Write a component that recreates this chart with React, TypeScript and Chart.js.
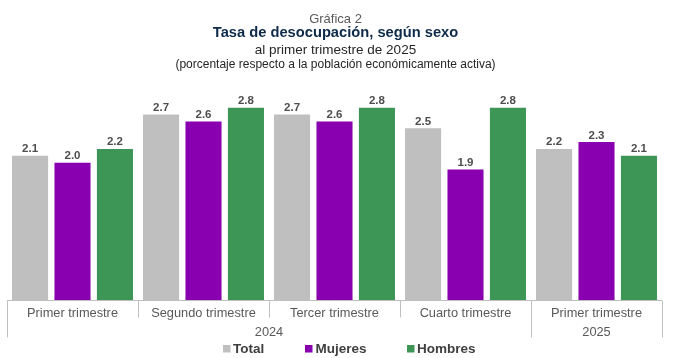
import React, { useEffect, useRef } from "react";
import { Chart, registerables } from "chart.js";

Chart.register(...registerables);

const quarters = ["Primer trimestre", "Segundo trimestre", "Tercer trimestre", "Cuarto trimestre", "Primer trimestre"];
const years = ["2024", "2024", "2024", "2024", "2025"];
const seriesNames = ["Total", "Mujeres", "Hombres"];
const totalValues = [2.1, 2.7, 2.7, 2.5, 2.2];
const mujeresValues = [2.0, 2.6, 2.6, 1.9, 2.3];
const hombresValues = [2.2, 2.8, 2.8, 2.8, 2.1];
const seriesColors = ["#bfbfbf", "#8800b0", "#3d9655"];

const FONT = "Arial, 'Liberation Sans', sans-serif";

const overlayPlugin = {
  id: "overlay",
  afterDatasetsDraw(chart: any) {
    const ctx = chart.ctx as CanvasRenderingContext2D;
    const xs = chart.scales.x;
    const area = chart.chartArea;
    ctx.save();

    // value labels
    ctx.font = `bold 11.5px ${FONT}`;
    ctx.fillStyle = "#4d4d4d";
    ctx.textAlign = "center";
    ctx.textBaseline = "alphabetic";
    chart.data.datasets.forEach((ds: any, di: number) => {
      const meta = chart.getDatasetMeta(di);
      meta.data.forEach((bar: any, i: number) => {
        const v = ds.data[i] as number;
        ctx.fillText(v.toFixed(1), bar.x, bar.y - 3.5);
      });
    });

    // axis line
    const base = Math.round(area.bottom) + 0.5;
    ctx.strokeStyle = "#bfbfbf";
    ctx.lineWidth = 1;
    ctx.beginPath();
    ctx.moveTo(area.left, base);
    ctx.lineTo(area.right, base);
    ctx.stroke();

    const n = quarters.length;
    const step = (xs.getPixelForValue(1) - xs.getPixelForValue(0));
    const start = xs.getPixelForValue(0) - step / 2;
    const boundary = (i: number) => Math.round(start + i * step) + 0.5;

    // dividers
    for (let i = 0; i <= n; i++) {
      const isGroupEdge = i === 0 || i === n || years[i] !== years[i - 1];
      ctx.beginPath();
      ctx.moveTo(boundary(i), base);
      ctx.lineTo(boundary(i), isGroupEdge ? base + 37 : base + 17);
      ctx.stroke();
    }

    // quarter labels
    ctx.font = `12.8px ${FONT}`;
    ctx.fillStyle = "#595959";
    for (let i = 0; i < n; i++) {
      ctx.fillText(quarters[i], xs.getPixelForValue(i), base + 16);
    }

    // year labels
    let runStart = 0;
    for (let i = 1; i <= n; i++) {
      if (i === n || years[i] !== years[runStart]) {
        const cx = (start + runStart * step + start + i * step) / 2;
        ctx.fillText(years[runStart], cx, base + 35);
        runStart = i;
      }
    }

    // legend
    const legendY = 348.5;
    const items = [
      { box: 223, text: 233 },
      { box: 305, text: 315.5 },
      { box: 407, text: 417 },
    ];
    ctx.font = `bold 13.5px ${FONT}`;
    ctx.textAlign = "left";
    ctx.textBaseline = "middle";
    chart.data.datasets.forEach((ds: any, di: number) => {
      const it = items[di];
      ctx.fillStyle = ds.backgroundColor;
      ctx.fillRect(it.box, legendY - 3.5, 7.5, 7.5);
      ctx.fillStyle = "#404040";
      ctx.fillText(ds.label, it.text, legendY + 0.5);
    });

    ctx.restore();
  },
};

export default function App() {
  const canvasRef = useRef<HTMLCanvasElement | null>(null);

  useEffect(() => {
    document.body.style.margin = "0";
    const canvas = canvasRef.current;
    if (!canvas) return;
    const chart = new Chart(canvas, {
      type: "bar",
      data: {
        labels: quarters,
        datasets: [
          { label: seriesNames[0], data: totalValues, backgroundColor: seriesColors[0] },
          { label: seriesNames[1], data: mujeresValues, backgroundColor: seriesColors[1] },
          { label: seriesNames[2], data: hombresValues, backgroundColor: seriesColors[2] },
        ],
      },
      options: {
        responsive: false,
        animation: false,
        devicePixelRatio: 1,
        layout: { padding: { left: 7, right: 27, top: 94, bottom: 58 } },
        datasets: {
          bar: { categoryPercentage: 0.972, barPercentage: 0.85 },
        },
        plugins: {
          legend: { display: false },
          title: { display: false },
          tooltip: { enabled: false },
        },
        scales: {
          x: { display: false, offset: true },
          y: { display: false, min: 0, max: 3.0 },
        },
      },
      plugins: [overlayPlugin],
    });
    return () => chart.destroy();
  }, []);

  const line = (top: number, size: number, weight: string, color: string, text: string) => (
    <div
      style={{
        position: "absolute",
        left: 0,
        width: 671,
        top,
        fontSize: size,
        lineHeight: `${size}px`,
        fontWeight: weight as any,
        color,
        textAlign: "center",
        fontFamily: FONT,
        whiteSpace: "nowrap",
      }}
    >
      {text}
    </div>
  );

  return (
    <div style={{ position: "relative", width: 689, height: 358, background: "#ffffff" }}>
      <canvas ref={canvasRef} width={689} height={358} style={{ position: "absolute", left: 0, top: 0, display: "block" }} />
      {line(11.7, 13, "normal", "#595959", "Gráfica 2")}
      {line(25.3, 14.7, "bold", "#0d2a4a", "Tasa de desocupación, según sexo")}
      {line(42.6, 13.5, "normal", "#262626", "al primer trimestre de 2025")}
      {line(57.5, 12, "normal", "#262626", "(porcentaje respecto a la población económicamente activa)")}
    </div>
  );
}
